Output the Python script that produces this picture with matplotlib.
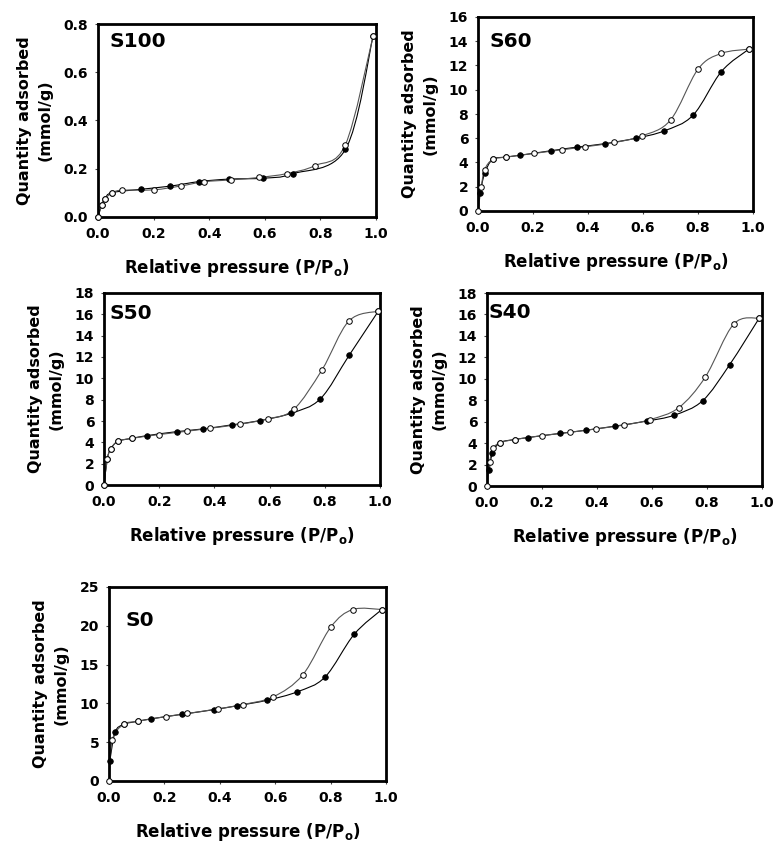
import matplotlib
matplotlib.use('Agg')
import numpy as np
import matplotlib.pyplot as plt
from matplotlib.path import Path
from matplotlib.patches import PathPatch

plt.rcParams['font.family'] = 'DejaVu Sans'
plt.rcParams['font.weight'] = 'bold'
plt.rcParams['axes.labelweight'] = 'bold'
plt.rcParams['mathtext.fontset'] = 'custom'
plt.rcParams['mathtext.rm'] = 'DejaVu Sans:bold'
plt.rcParams['mathtext.bf'] = 'DejaVu Sans:bold'

# isotherm points, open and filled markers per sample
s100_open_x = [0, 0.013, 0.025, 0.052, 0.086, 0.2, 0.3, 0.38, 0.48, 0.58, 0.68, 0.78, 0.89, 0.99]
s100_open_y = [0.0, 0.049, 0.076, 0.101, 0.111, 0.1125, 0.129, 0.146, 0.154, 0.164, 0.18, 0.213, 0.30, 0.752]
s100_fill_x = [0, 0.013, 0.025, 0.05, 0.155, 0.26, 0.365, 0.47, 0.595, 0.70, 0.89, 0.99]
s100_fill_y = [0.0, 0.049, 0.076, 0.101, 0.115, 0.128, 0.147, 0.157, 0.161, 0.179, 0.28, 0.752]

s60_open_x = [0, 0.012, 0.024, 0.053, 0.103, 0.204, 0.305, 0.39, 0.496, 0.597, 0.70, 0.80, 0.885, 0.985]
s60_open_y = [0, 2.0, 3.4, 4.25, 4.45, 4.75, 5.05, 5.3, 5.65, 6.2, 7.5, 11.7, 13.0, 13.35]
s60_fill_x = [0.008, 0.024, 0.053, 0.103, 0.154, 0.265, 0.36, 0.46, 0.574, 0.676, 0.782, 0.885, 0.985]
s60_fill_y = [1.5, 3.1, 4.25, 4.45, 4.6, 4.97, 5.27, 5.55, 6.0, 6.6, 7.9, 11.5, 13.35]

s50_open_x = [0, 0.012, 0.024, 0.051, 0.103, 0.20, 0.30, 0.384, 0.493, 0.593, 0.687, 0.79, 0.887, 0.994]
s50_open_y = [0, 2.44, 3.38, 4.1, 4.38, 4.73, 5.04, 5.32, 5.7, 6.2, 7.08, 10.8, 15.37, 16.3]
s50_fill_x = [0, 0.012, 0.024, 0.051, 0.103, 0.156, 0.263, 0.36, 0.463, 0.566, 0.678, 0.784, 0.888, 0.994]
s50_fill_y = [0, 2.44, 3.38, 4.1, 4.38, 4.63, 5.0, 5.26, 5.64, 6.04, 6.73, 8.08, 12.15, 16.3]

s40_open_x = [0, 0.01, 0.022, 0.048, 0.10, 0.20, 0.30, 0.396, 0.497, 0.594, 0.697, 0.794, 0.897, 0.99]
s40_open_y = [0, 2.25, 3.5, 4.05, 4.33, 4.7, 5.0, 5.33, 5.68, 6.2, 7.3, 10.17, 15.1, 15.66]
s40_fill_x = [0.008, 0.02, 0.048, 0.10, 0.15, 0.264, 0.36, 0.464, 0.58, 0.68, 0.784, 0.882, 0.99]
s40_fill_y = [1.5, 3.1, 4.05, 4.33, 4.52, 4.9, 5.2, 5.58, 6.05, 6.6, 7.95, 11.3, 15.66]

s0_open_x = [0, 0.012, 0.053, 0.105, 0.204, 0.283, 0.394, 0.482, 0.593, 0.70, 0.80, 0.88, 0.985]
s0_open_y = [0, 5.3, 7.3, 7.7, 8.3, 8.7, 9.3, 9.85, 10.85, 13.7, 19.8, 22.1, 22.1]
s0_fill_x = [0.003, 0.022, 0.053, 0.105, 0.15, 0.265, 0.38, 0.463, 0.57, 0.68, 0.78, 0.885, 0.985]
s0_fill_y = [2.6, 6.3, 7.3, 7.7, 8.0, 8.6, 9.2, 9.7, 10.4, 11.5, 13.4, 18.9, 22.1]

names = ['S100', 'S60', 'S50', 'S40', 'S0']
y_max = [0.8, 16, 18, 18, 25]
y_step = [0.2, 2, 2, 2, 5]
y_fmt = ['%.1f', '%d', '%d', '%d', '%d']

# axes boxes in pixels: left, top, right, bottom
boxes = [(98, 24, 376, 217), (478, 17, 753, 211), (104, 293, 380, 485),
         (487, 293, 762, 486), (109, 587, 386, 781)]
# name offsets from top-left corner, points
name_off = [(8, -6), (8, -11), (4, -8), (1, -7), (12, -17)]

W, H = 773, 846


def smooth_path(xs, ys):
    # cubic bezier through every point, excel-style smoothing
    pts = list(zip(xs, ys))
    n = len(pts)
    verts = [pts[0]]
    codes = [Path.MOVETO]
    for i in range(n - 1):
        p0 = pts[max(i - 1, 0)]
        p1 = pts[i]
        p2 = pts[i + 1]
        p3 = pts[min(i + 2, n - 1)]
        c1 = (p1[0] + (p2[0] - p0[0]) / 6, p1[1] + (p2[1] - p0[1]) / 6)
        c2 = (p2[0] - (p3[0] - p1[0]) / 6, p2[1] - (p3[1] - p1[1]) / 6)
        verts += [c1, c2, p2]
        codes += [Path.CURVE4] * 3
    return Path(verts, codes)


fig = plt.figure(figsize=(W / 100, H / 100), dpi=100)

series = [
    (s100_open_x, s100_open_y, s100_fill_x, s100_fill_y),
    (s60_open_x, s60_open_y, s60_fill_x, s60_fill_y),
    (s50_open_x, s50_open_y, s50_fill_x, s50_fill_y),
    (s40_open_x, s40_open_y, s40_fill_x, s40_fill_y),
    (s0_open_x, s0_open_y, s0_fill_x, s0_fill_y),
]

xt = np.arange(0, 1.01, 0.2)

for k in range(5):
    l, t, r, b = boxes[k]
    ax = fig.add_axes([l / W, 1 - b / H, (r - l) / W, (b - t) / H])
    ox, oy, fx, fy = series[k]

    ax.add_patch(PathPatch(smooth_path(fx, fy), fill=False, edgecolor='black', lw=0.8, zorder=2))
    ax.add_patch(PathPatch(smooth_path(ox, oy), fill=False, edgecolor='#555555', lw=0.8, zorder=2))
    ax.plot(fx, fy, 'o', ms=4, mfc='black', mec='black', mew=0.6, clip_on=False, zorder=3)
    ax.plot(ox, oy, 'o', ms=4, mfc='white', mec='black', mew=0.7, clip_on=False, zorder=4)

    ax.set_xlim(0, 1.0)
    ax.set_ylim(0, y_max[k])
    yt = np.arange(0, y_max[k] + y_step[k] / 2, y_step[k])
    ax.set_xticks(xt)
    ax.set_xticklabels(['%.1f' % v for v in xt], fontweight='bold', fontsize=10)
    ax.set_yticks(yt)
    ax.set_yticklabels([y_fmt[k] % v for v in yt], fontweight='bold', fontsize=10)
    ax.tick_params(direction='out', length=2, width=0.8, color='#444444', pad=5)
    for sp in ax.spines.values():
        sp.set_linewidth(2.0)

    ax.set_xlabel(r'Relative pressure (P/P$_\mathrm{o}$)', fontsize=12, labelpad=12)
    ax.set_ylabel('Quantity adsorbed\n(mmol/g)', fontsize=11.5, labelpad=8, linespacing=1.45)
    ax.annotate(names[k], xy=(0, 1), xycoords='axes fraction', xytext=name_off[k],
                textcoords='offset points', ha='left', va='top', fontsize=14.5, fontweight='bold')

fig.savefig('out.png', dpi=100)
